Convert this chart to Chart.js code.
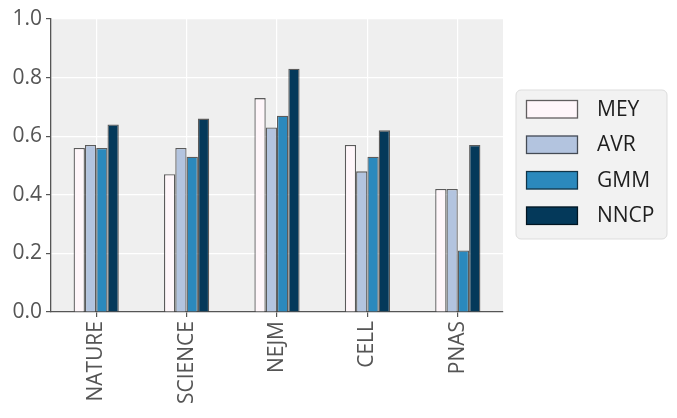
<!DOCTYPE html>
<html>
<head>
<meta charset="utf-8">
<script src="https://cdn.jsdelivr.net/npm/chart.js@4/dist/chart.umd.min.js"></script>
<style>
  html, body { margin: 0; padding: 0; background: #ffffff; }
  #wrap { width: 677px; height: 418px; }
</style>
</head>
<body>
<div id="wrap"><canvas id="c" width="677" height="418"></canvas></div>
<script>
const categories = ["NATURE", "SCIENCE", "NEJM", "CELL", "PNAS"];
const seriesNames = ["MEY", "AVR", "GMM", "NNCP"];
const MEY  = [0.56, 0.47, 0.73, 0.57, 0.42];
const AVR  = [0.57, 0.56, 0.63, 0.48, 0.42];
const GMM  = [0.56, 0.53, 0.67, 0.53, 0.21];
const NNCP = [0.64, 0.66, 0.83, 0.62, 0.57];
const yTicks = [0.0, 0.2, 0.4, 0.6, 0.8, 1.0];
const colors = ["#fff6fa", "#b3c4df", "#2b89bd", "#04395a"];

const FONT = "'Open Sans', 'Noto Sans', sans-serif";
const edge = "rgba(0,0,0,0.62)";

const bgPlugin = {
  id: 'bg',
  beforeDraw(chart) {
    const ctx = chart.ctx;
    ctx.save();
    ctx.fillStyle = '#ffffff';
    ctx.fillRect(0, 0, chart.width, chart.height);
    const a = chart.chartArea;
    ctx.fillStyle = '#efefef';
    ctx.fillRect(a.left, a.top, a.right - a.left, a.bottom - a.top);
    ctx.restore();
  }
};

const legendPlugin = {
  id: 'customLegend',
  afterDraw(chart) {
    const ctx = chart.ctx;
    const x0 = 516, y0 = 90, w = 151, h = 149, r = 5;
    ctx.save();
    ctx.beginPath();
    ctx.moveTo(x0 + r, y0);
    ctx.arcTo(x0 + w, y0, x0 + w, y0 + h, r);
    ctx.arcTo(x0 + w, y0 + h, x0, y0 + h, r);
    ctx.arcTo(x0, y0 + h, x0, y0, r);
    ctx.arcTo(x0, y0, x0 + w, y0, r);
    ctx.closePath();
    ctx.fillStyle = '#f2f2f2';
    ctx.fill();
    ctx.strokeStyle = '#dddddd';
    ctx.lineWidth = 1;
    ctx.stroke();
    chart.data.datasets.forEach((ds, i) => {
      const sy = 100 + i * 35.5;
      ctx.fillStyle = ds.backgroundColor;
      ctx.fillRect(526, sy, 52, 18.5);
      ctx.strokeStyle = edge;
      ctx.lineWidth = 1.3;
      ctx.strokeRect(526.5, sy + 0.5, 51, 17.5);
      ctx.fillStyle = '#1e1e1e';
      ctx.font = "21px " + FONT;
      ctx.textAlign = 'left';
      ctx.textBaseline = 'middle';
      ctx.fillText(ds.label, 597, sy + 10);
    });
    ctx.restore();
  }
};

const seriesData = [MEY, AVR, GMM, NNCP];

new Chart(document.getElementById('c'), {
  type: 'bar',
  data: {
    labels: categories,
    datasets: seriesNames.map((name, i) => ({
      label: name,
      data: seriesData[i],
      backgroundColor: colors[i],
      borderColor: edge,
      borderWidth: 1.3,
      borderSkipped: 'bottom',
      categoryPercentage: 0.5,
      barPercentage: 1.0
    }))
  },
  options: {
    responsive: false,
    devicePixelRatio: 1,
    animation: false,
    layout: { padding: { left: 0, top: 19, right: 174, bottom: 0 } },
    plugins: {
      legend: { display: false },
      tooltip: { enabled: false }
    },
    scales: {
      x: {
        offset: true,
        grid: {
          offset: false,
          color: '#ffffff',
          lineWidth: 1.2,
          drawTicks: true,
          tickLength: 5,
          tickColor: '#555555'
        },
        border: { display: true, color: '#555555', width: 1.3 },
        ticks: {
          minRotation: 90,
          maxRotation: 90,
          padding: 4,
          color: '#555555',
          font: { family: FONT, size: 21 }
        },
        afterFit(scale) { scale.height = 106; }
      },
      y: {
        min: 0,
        max: 1,
        afterBuildTicks(scale) { scale.ticks = yTicks.map(v => ({ value: v })); },
        grid: {
          color: '#ffffff',
          lineWidth: 1.2,
          drawTicks: true,
          tickLength: 5,
          tickColor: '#555555'
        },
        border: { display: true, color: '#555555', width: 1.3 },
        ticks: {
          padding: 4,
          color: '#555555',
          font: { family: FONT, size: 21 },
          callback: (v) => Number(v).toFixed(1)
        },
        afterFit(scale) { scale.width = 51; }
      }
    }
  },
  plugins: [bgPlugin, legendPlugin]
});
</script>
</body>
</html>
